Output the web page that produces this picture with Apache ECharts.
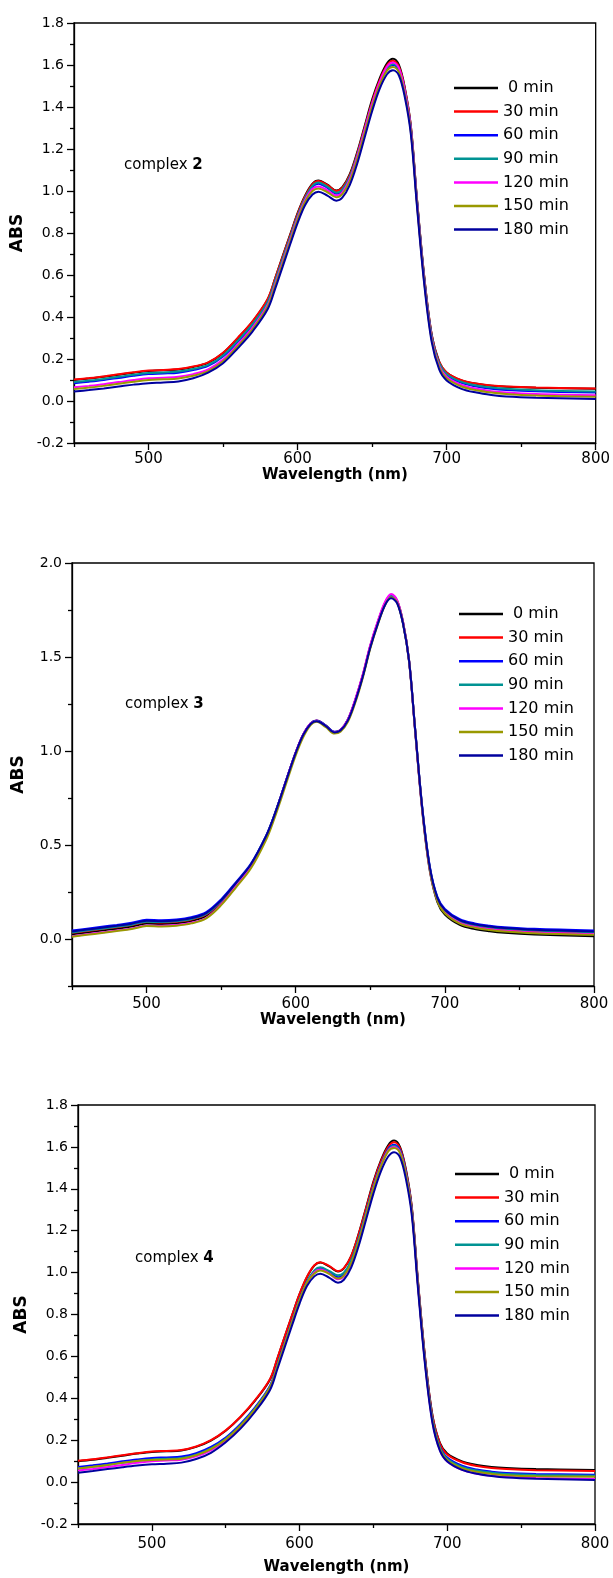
<!DOCTYPE html>
<html>
<head>
<meta charset="utf-8">
<script src="https://cdn.jsdelivr.net/npm/echarts@6/dist/echarts.min.js"></script>
<style>
  html, body { margin: 0; padding: 0; background: #fff; }
  #chart { width: 613px; height: 1578px; }
</style>
</head>
<body>
<div id="chart"></div>
<script>
// wavelength grid (nm), shared by all curves
const wavelength = [450, 460, 470, 480, 490, 500, 510, 520, 530, 540,
  550, 560, 570, 580, 585, 590, 595, 600, 605, 610,
  614, 620, 626, 630, 635, 640, 645, 650, 655, 660,
  664, 668, 672, 676, 680, 685, 690, 695, 700, 710,
  720, 730, 740, 760, 800];

const times = ['0 min', '30 min', '60 min', '90 min', '120 min', '150 min', '180 min'];
const xTickLabels = [500, 600, 700, 800];
const xMinorTicks = [450, 550, 650, 750];

// complex 2
const abs2_0 = [0.100, 0.107, 0.115, 0.125, 0.135, 0.143, 0.146, 0.150, 0.162, 0.182,
  0.228, 0.300, 0.380, 0.485, 0.585, 0.690, 0.792, 0.895, 0.978, 1.035,
  1.050, 1.030, 1.002, 1.018, 1.080, 1.185, 1.310, 1.435, 1.535, 1.608,
  1.630, 1.600, 1.490, 1.310, 0.970, 0.590, 0.315, 0.188, 0.136, 0.098,
  0.082, 0.073, 0.068, 0.063, 0.058];
const abs2_30 = [0.102, 0.109, 0.117, 0.127, 0.137, 0.145, 0.148, 0.152, 0.164, 0.184,
  0.230, 0.302, 0.382, 0.487, 0.585, 0.688, 0.789, 0.891, 0.974, 1.032,
  1.048, 1.028, 1.000, 1.015, 1.075, 1.178, 1.302, 1.425, 1.525, 1.598,
  1.620, 1.592, 1.485, 1.308, 0.970, 0.592, 0.317, 0.187, 0.136, 0.099,
  0.083, 0.074, 0.069, 0.064, 0.059];
const abs2_60 = [0.085, 0.092, 0.100, 0.110, 0.120, 0.128, 0.131, 0.135, 0.147, 0.167,
  0.212, 0.283, 0.363, 0.468, 0.568, 0.672, 0.775, 0.878, 0.962, 1.020,
  1.035, 1.015, 0.987, 1.002, 1.062, 1.165, 1.288, 1.410, 1.508, 1.581,
  1.600, 1.575, 1.470, 1.295, 0.960, 0.580, 0.305, 0.175, 0.124, 0.086,
  0.069, 0.058, 0.052, 0.046, 0.040];
const abs2_90 = [0.090, 0.097, 0.105, 0.115, 0.125, 0.133, 0.136, 0.140, 0.152, 0.172,
  0.217, 0.288, 0.368, 0.473, 0.573, 0.677, 0.779, 0.882, 0.966, 1.024,
  1.040, 1.020, 0.992, 1.007, 1.067, 1.170, 1.293, 1.415, 1.513, 1.586,
  1.605, 1.580, 1.475, 1.300, 0.965, 0.585, 0.310, 0.180, 0.129, 0.091,
  0.074, 0.064, 0.058, 0.051, 0.045];
const abs2_120 = [0.065, 0.072, 0.080, 0.090, 0.100, 0.108, 0.111, 0.115, 0.128, 0.150,
  0.197, 0.270, 0.352, 0.458, 0.558, 0.663, 0.767, 0.871, 0.956, 1.011,
  1.022, 1.003, 0.978, 0.994, 1.057, 1.163, 1.290, 1.415, 1.518, 1.593,
  1.612, 1.585, 1.475, 1.295, 0.955, 0.572, 0.297, 0.167, 0.115, 0.076,
  0.058, 0.047, 0.040, 0.033, 0.027];
const abs2_150 = [0.057, 0.064, 0.072, 0.082, 0.092, 0.100, 0.103, 0.107, 0.120, 0.142,
  0.189, 0.262, 0.344, 0.450, 0.550, 0.655, 0.759, 0.863, 0.948, 1.000,
  1.012, 0.994, 0.970, 0.985, 1.046, 1.150, 1.275, 1.400, 1.502, 1.573,
  1.590, 1.565, 1.458, 1.282, 0.945, 0.565, 0.290, 0.160, 0.108, 0.069,
  0.051, 0.040, 0.033, 0.026, 0.020];
const abs2_180 = [0.045, 0.052, 0.060, 0.069, 0.078, 0.085, 0.088, 0.093, 0.108, 0.135,
  0.180, 0.252, 0.333, 0.438, 0.535, 0.640, 0.745, 0.847, 0.932, 0.983,
  0.997, 0.978, 0.954, 0.968, 1.028, 1.130, 1.255, 1.380, 1.485, 1.556,
  1.575, 1.550, 1.445, 1.270, 0.935, 0.555, 0.280, 0.150, 0.098, 0.058,
  0.040, 0.029, 0.022, 0.016, 0.010];

// complex 3
const abs3_0 = [0.025, 0.035, 0.045, 0.055, 0.066, 0.082, 0.080, 0.084, 0.096, 0.123,
  0.193, 0.288, 0.390, 0.540, 0.640, 0.755, 0.875, 0.990, 1.085, 1.145,
  1.160, 1.135, 1.100, 1.110, 1.165, 1.270, 1.400, 1.553, 1.678, 1.782,
  1.822, 1.792, 1.676, 1.475, 1.112, 0.670, 0.358, 0.196, 0.130, 0.075,
  0.053, 0.041, 0.033, 0.024, 0.014];
const abs3_30 = [0.033, 0.043, 0.053, 0.063, 0.074, 0.090, 0.088, 0.092, 0.104, 0.131,
  0.200, 0.294, 0.394, 0.543, 0.642, 0.757, 0.877, 0.992, 1.087, 1.147,
  1.162, 1.137, 1.101, 1.112, 1.168, 1.274, 1.405, 1.560, 1.686, 1.790,
  1.830, 1.800, 1.685, 1.483, 1.122, 0.682, 0.372, 0.212, 0.147, 0.092,
  0.070, 0.058, 0.050, 0.041, 0.032];
const abs3_60 = [0.045, 0.055, 0.065, 0.075, 0.086, 0.102, 0.100, 0.104, 0.116, 0.143,
  0.211, 0.303, 0.401, 0.547, 0.645, 0.759, 0.878, 0.992, 1.087, 1.147,
  1.162, 1.137, 1.102, 1.112, 1.167, 1.271, 1.401, 1.556, 1.682, 1.786,
  1.825, 1.796, 1.682, 1.483, 1.125, 0.690, 0.382, 0.224, 0.160, 0.105,
  0.083, 0.071, 0.063, 0.054, 0.045];
const abs3_90 = [0.035, 0.045, 0.055, 0.065, 0.076, 0.092, 0.090, 0.094, 0.106, 0.133,
  0.202, 0.296, 0.396, 0.544, 0.643, 0.758, 0.877, 0.991, 1.086, 1.146,
  1.160, 1.136, 1.100, 1.111, 1.167, 1.272, 1.403, 1.558, 1.684, 1.788,
  1.828, 1.798, 1.683, 1.482, 1.122, 0.684, 0.375, 0.215, 0.151, 0.096,
  0.074, 0.062, 0.054, 0.045, 0.036];
const abs3_120 = [0.015, 0.025, 0.035, 0.045, 0.056, 0.072, 0.070, 0.074, 0.086, 0.113,
  0.185, 0.281, 0.385, 0.537, 0.638, 0.755, 0.876, 0.992, 1.087, 1.146,
  1.158, 1.134, 1.099, 1.111, 1.168, 1.276, 1.408, 1.564, 1.690, 1.795,
  1.835, 1.803, 1.685, 1.480, 1.116, 0.675, 0.365, 0.205, 0.141, 0.086,
  0.064, 0.052, 0.044, 0.035, 0.026];
const abs3_150 = [0.012, 0.022, 0.032, 0.042, 0.053, 0.069, 0.067, 0.071, 0.083, 0.110,
  0.180, 0.275, 0.376, 0.525, 0.625, 0.740, 0.861, 0.977, 1.073, 1.138,
  1.155, 1.128, 1.093, 1.102, 1.155, 1.258, 1.390, 1.545, 1.672, 1.778,
  1.818, 1.790, 1.678, 1.480, 1.120, 0.678, 0.365, 0.203, 0.137, 0.082,
  0.060, 0.048, 0.040, 0.031, 0.022];
const abs3_180 = [0.040, 0.050, 0.060, 0.070, 0.081, 0.097, 0.095, 0.099, 0.111, 0.138,
  0.206, 0.299, 0.398, 0.545, 0.643, 0.757, 0.876, 0.990, 1.085, 1.144,
  1.158, 1.134, 1.099, 1.109, 1.163, 1.266, 1.396, 1.550, 1.675, 1.778,
  1.812, 1.786, 1.675, 1.480, 1.122, 0.686, 0.378, 0.219, 0.155, 0.100,
  0.078, 0.066, 0.058, 0.049, 0.040];

// complex 4
const abs4_0 = [0.100, 0.107, 0.116, 0.126, 0.136, 0.144, 0.147, 0.151, 0.168, 0.198,
  0.245, 0.310, 0.390, 0.490, 0.590, 0.695, 0.797, 0.897, 0.978, 1.033,
  1.048, 1.030, 1.005, 1.020, 1.080, 1.185, 1.310, 1.435, 1.535, 1.608,
  1.630, 1.600, 1.492, 1.312, 0.972, 0.592, 0.317, 0.187, 0.136, 0.099,
  0.082, 0.072, 0.067, 0.062, 0.058];
const abs4_30 = [0.102, 0.109, 0.118, 0.128, 0.138, 0.146, 0.149, 0.153, 0.170, 0.200,
  0.247, 0.312, 0.392, 0.492, 0.592, 0.696, 0.798, 0.898, 0.980, 1.035,
  1.050, 1.032, 1.007, 1.021, 1.080, 1.183, 1.306, 1.429, 1.528, 1.600,
  1.622, 1.594, 1.488, 1.310, 0.972, 0.592, 0.315, 0.184, 0.132, 0.095,
  0.077, 0.067, 0.062, 0.057, 0.053];
const abs4_60 = [0.072, 0.080, 0.089, 0.099, 0.108, 0.115, 0.118, 0.122, 0.138, 0.168,
  0.213, 0.278, 0.358, 0.460, 0.560, 0.666, 0.771, 0.873, 0.956, 1.007,
  1.022, 1.003, 0.978, 0.993, 1.054, 1.160, 1.286, 1.413, 1.515, 1.590,
  1.610, 1.584, 1.478, 1.300, 0.962, 0.580, 0.303, 0.170, 0.117, 0.078,
  0.060, 0.050, 0.044, 0.039, 0.035];
const abs4_90 = [0.065, 0.073, 0.082, 0.092, 0.101, 0.108, 0.111, 0.115, 0.131, 0.161,
  0.207, 0.272, 0.353, 0.456, 0.557, 0.663, 0.769, 0.872, 0.957, 1.010,
  1.025, 1.008, 0.987, 1.000, 1.058, 1.161, 1.285, 1.410, 1.512, 1.586,
  1.605, 1.580, 1.475, 1.298, 0.960, 0.576, 0.299, 0.165, 0.112, 0.073,
  0.055, 0.045, 0.039, 0.034, 0.030];
const abs4_120 = [0.055, 0.063, 0.072, 0.082, 0.092, 0.100, 0.103, 0.107, 0.123, 0.152,
  0.198, 0.264, 0.346, 0.450, 0.551, 0.658, 0.764, 0.867, 0.950, 1.001,
  1.015, 0.996, 0.968, 0.982, 1.042, 1.147, 1.274, 1.403, 1.507, 1.582,
  1.600, 1.575, 1.468, 1.290, 0.952, 0.566, 0.287, 0.152, 0.098, 0.058,
  0.040, 0.030, 0.024, 0.019, 0.015];
const abs4_150 = [0.065, 0.073, 0.082, 0.092, 0.101, 0.105, 0.108, 0.112, 0.128, 0.158,
  0.204, 0.269, 0.350, 0.453, 0.554, 0.660, 0.766, 0.869, 0.952, 0.996,
  1.010, 0.994, 0.972, 0.986, 1.045, 1.149, 1.275, 1.402, 1.505, 1.579,
  1.595, 1.571, 1.466, 1.290, 0.954, 0.570, 0.293, 0.160, 0.106, 0.067,
  0.049, 0.039, 0.033, 0.028, 0.025];
const abs4_180 = [0.045, 0.053, 0.062, 0.071, 0.079, 0.085, 0.088, 0.093, 0.110, 0.140,
  0.190, 0.255, 0.337, 0.440, 0.540, 0.645, 0.750, 0.852, 0.936, 0.982,
  0.995, 0.976, 0.952, 0.966, 1.025, 1.127, 1.252, 1.377, 1.482, 1.554,
  1.575, 1.550, 1.446, 1.272, 0.937, 0.556, 0.281, 0.150, 0.098, 0.058,
  0.040, 0.029, 0.022, 0.016, 0.010];

const colors = ['#000000', '#ff0000', '#0000ff', '#009393', '#ff00ff', '#999900', '#00009e'];
const font = 'DejaVu Sans';

const panels = [
  {
    label: '2',
    curves: [abs2_0, abs2_30, abs2_60, abs2_90, abs2_120, abs2_150, abs2_180],
    yMin: -0.2, yMax: 1.8,
    yTicks: [-0.2, 0, 0.2, 0.4, 0.6, 0.8, 1.0, 1.2, 1.4, 1.6, 1.8],
    yMinor: [-0.1, 0.1, 0.3, 0.5, 0.7, 0.9, 1.1, 1.3, 1.5, 1.7],
    grid: { left: 74, top: 23, width: 522, height: 420 },
    xLabelMargin: 9, xNameGap: 22,
    legendPos: { left: 454, top: 78 },
    textPos: { x: 124, y: 167 }
  },
  {
    label: '3',
    curves: [abs3_0, abs3_30, abs3_60, abs3_90, abs3_120, abs3_150, abs3_180],
    yMin: -0.25, yMax: 2.0,
    yTicks: [0, 0.5, 1.0, 1.5, 2.0],
    yMinor: [-0.25, 0.25, 0.75, 1.25, 1.75],
    grid: { left: 72, top: 563, width: 522, height: 423 },
    xLabelMargin: 11, xNameGap: 27,
    legendPos: { left: 459, top: 604 },
    textPos: { x: 125, y: 706 }
  },
  {
    label: '4',
    curves: [abs4_0, abs4_30, abs4_60, abs4_90, abs4_120, abs4_150, abs4_180],
    yMin: -0.2, yMax: 1.8,
    yTicks: [-0.2, 0, 0.2, 0.4, 0.6, 0.8, 1.0, 1.2, 1.4, 1.6, 1.8],
    yMinor: [-0.1, 0.1, 0.3, 0.5, 0.7, 0.9, 1.1, 1.3, 1.5, 1.7],
    grid: { left: 78, top: 1105, width: 517, height: 419 },
    xLabelMargin: 13, xNameGap: 36,
    legendPos: { left: 455, top: 1164 },
    textPos: { x: 135, y: 1260 }
  }
];

const grids = [], xAxes = [], yAxes = [], legends = [], series = [], texts = [];

panels.forEach((p, i) => {
  grids.push(Object.assign({
    show: true, borderColor: '#000', borderWidth: 1.3, backgroundColor: 'transparent'
  }, p.grid));

  // main x axis: labels + long ticks
  xAxes.push({
    type: 'value', gridIndex: i, position: 'bottom', min: 450, max: 800,
    name: 'Wavelength (nm)', nameLocation: 'middle', nameGap: p.xNameGap,
    nameTextStyle: { fontFamily: font, fontSize: 15, fontWeight: 'bold', color: '#000' },
    axisLine: { show: true, onZero: false, lineStyle: { color: '#000', width: 1.3 } },
    axisTick: { show: true, length: 7, customValues: xTickLabels, lineStyle: { color: '#000', width: 1.3 } },
    axisLabel: { customValues: xTickLabels, margin: p.xLabelMargin, fontFamily: font, fontSize: 15, color: '#000' },
    splitLine: { show: false }
  });
  // short ticks between labels
  xAxes.push({
    type: 'value', gridIndex: i, position: 'bottom', min: 450, max: 800,
    axisLine: { show: false, onZero: false },
    axisTick: { show: true, length: 4, customValues: xMinorTicks, lineStyle: { color: '#000', width: 1.3 } },
    axisLabel: { show: false },
    splitLine: { show: false }
  });

  yAxes.push({
    type: 'value', gridIndex: i, position: 'left', min: p.yMin, max: p.yMax,
    name: 'ABS', nameLocation: 'middle', nameGap: 45,
    nameTextStyle: { fontFamily: font, fontSize: 17, fontWeight: 'bold', color: '#000' },
    axisLine: { show: true, onZero: false, lineStyle: { color: '#000', width: 1.3 } },
    axisTick: { show: true, length: 7, customValues: p.yTicks, lineStyle: { color: '#000', width: 1.3 } },
    axisLabel: {
      customValues: p.yTicks, margin: 10, fontFamily: font, fontSize: 14, color: '#000',
      formatter: v => Number(v).toFixed(1)
    },
    splitLine: { show: false }
  });
  yAxes.push({
    type: 'value', gridIndex: i, position: 'left', min: p.yMin, max: p.yMax,
    axisLine: { show: false, onZero: false },
    axisTick: { show: true, length: 4, customValues: p.yMinor, lineStyle: { color: '#000', width: 1.3 } },
    axisLabel: { show: false },
    splitLine: { show: false }
  });

  legends.push({
    orient: 'vertical', left: p.legendPos.left, top: p.legendPos.top, padding: 0,
    data: times, icon: 'rect', itemWidth: 44, itemHeight: 2.5, itemGap: 3.6,
    textStyle: { fontFamily: font, fontSize: 16, color: '#000', lineHeight: 20 },
    formatter: n => (n === '0 min' ? ' ' + n : n),
    selectedMode: false
  });

  p.curves.forEach((vals, k) => {
    series.push({
      name: times[k], type: 'line', xAxisIndex: i * 2, yAxisIndex: i * 2,
      data: wavelength.map((w, j) => [w, vals[j]]),
      smooth: 0.35, showSymbol: false, symbol: 'none',
      lineStyle: { width: 2, color: colors[k] },
      itemStyle: { color: colors[k] },
      animation: false
    });
  });

  texts.push({
    type: 'text', left: p.textPos.x, top: p.textPos.y - 9,
    style: {
      text: '{n|complex }{b|' + p.label + '}',
      rich: {
        n: { fontFamily: font, fontSize: 15, fill: '#000' },
        b: { fontFamily: font, fontSize: 15, fontWeight: 'bold', fill: '#000' }
      }
    }
  });
});

const chart = echarts.init(document.getElementById('chart'), null, { renderer: 'canvas' });
chart.setOption({
  backgroundColor: '#fff',
  animation: false,
  grid: grids,
  xAxis: xAxes,
  yAxis: yAxes,
  legend: legends,
  series: series,
  graphic: texts
});
</script>
</body>
</html>
